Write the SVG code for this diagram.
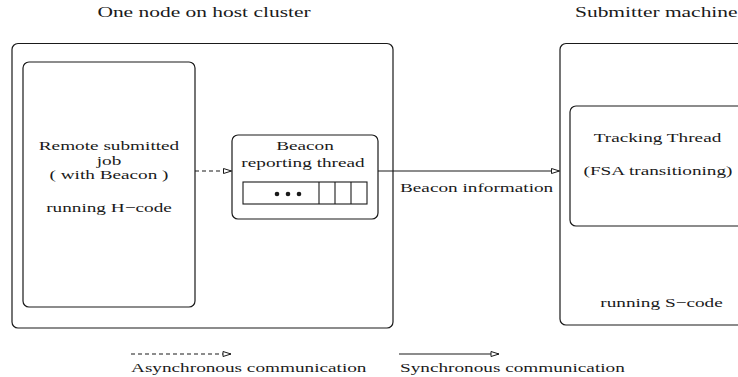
<svg xmlns="http://www.w3.org/2000/svg" width="738" height="377" viewBox="0 0 738 377">
<defs>
<style>
.box{fill:none;stroke:#1a1a1a;stroke-width:1.2}
.ln{fill:none;stroke:#1a1a1a;stroke-width:1.1}
.dash{stroke-dasharray:4 3}
.t{font-family:"Liberation Serif","Times New Roman",serif;font-size:13px;fill:#1a1a1a;text-anchor:middle}
.s{text-anchor:start}
.h{font-size:14.5px}
</style>
<marker id="arr" markerUnits="userSpaceOnUse" markerWidth="10" markerHeight="8" refX="9" refY="3" orient="auto">
<path d="M1,0.5 L9,3 L1,5.5 Z" fill="#fff" stroke="#1a1a1a" stroke-width="1"/>
</marker>
</defs>
<rect width="738" height="377" fill="#fff"/>
<g id="title-host"><text class="t h" transform="translate(204 17) scale(1.48 1)">One node on host cluster</text></g>
<g id="title-submitter"><text class="t h s" transform="translate(575 17) scale(1.48 1)">Submitter machine</text></g>
<g id="host-node">
<rect class="box" x="12" y="43.5" width="381" height="284.5" rx="6"/>
</g>
<g id="remote-job">
<rect class="box" x="23" y="62" width="172" height="245" rx="6"/>
<text class="t" transform="translate(109 150) scale(1.48 1)">Remote submitted</text>
<text class="t" transform="translate(109 164.5) scale(1.48 1)">job</text>
<text class="t" transform="translate(109 179) scale(1.48 1)">( with Beacon )</text>
<text class="t" transform="translate(109 212) scale(1.48 1)">running H−code</text>
</g>
<g id="beacon-thread">
<rect class="box" x="232" y="135" width="146" height="84" rx="6"/>
<text class="t" transform="translate(305 149.5) scale(1.48 1)">Beacon</text>
<text class="t" transform="translate(303 167) scale(1.48 1)">reporting thread</text>
<rect class="ln" x="243" y="182" width="124" height="22"/>
<line class="ln" x1="319" y1="182" x2="319" y2="204"/>
<line class="ln" x1="335" y1="182" x2="335" y2="204"/>
<line class="ln" x1="351" y1="182" x2="351" y2="204"/>
<circle cx="277" cy="194" r="2.3" fill="#1a1a1a"/>
<circle cx="288" cy="194" r="2.3" fill="#1a1a1a"/>
<circle cx="299" cy="194" r="2.3" fill="#1a1a1a"/>
</g>
<g id="submitter-machine">
<rect class="box" x="560" y="43.5" width="200" height="281.5" rx="6"/>
<text class="t" transform="translate(661.5 307) scale(1.48 1)">running S−code</text>
</g>
<g id="tracking-thread">
<rect class="box" x="570" y="106" width="190" height="120" rx="6"/>
<text class="t" transform="translate(657.5 142) scale(1.48 1)">Tracking Thread</text>
<text class="t" transform="translate(658 175) scale(1.48 1)">(FSA transitioning)</text>
</g>
<g id="connectors">
<line class="ln dash" x1="195" y1="171" x2="231.5" y2="171" marker-end="url(#arr)"/>
<line class="ln" x1="378" y1="171" x2="559.5" y2="171" marker-end="url(#arr)"/>
<text class="t s" transform="translate(400 192) scale(1.48 1)">Beacon information</text>
</g>
<g id="legend">
<line class="ln dash" x1="131" y1="354" x2="231" y2="354" marker-end="url(#arr)"/>
<text class="t s" transform="translate(131 372) scale(1.48 1)">Asynchronous communication</text>
<line class="ln" x1="399" y1="354" x2="499" y2="354" marker-end="url(#arr)"/>
<text class="t s" transform="translate(400 372) scale(1.48 1)">Synchronous communication</text>
</g>
</svg>
